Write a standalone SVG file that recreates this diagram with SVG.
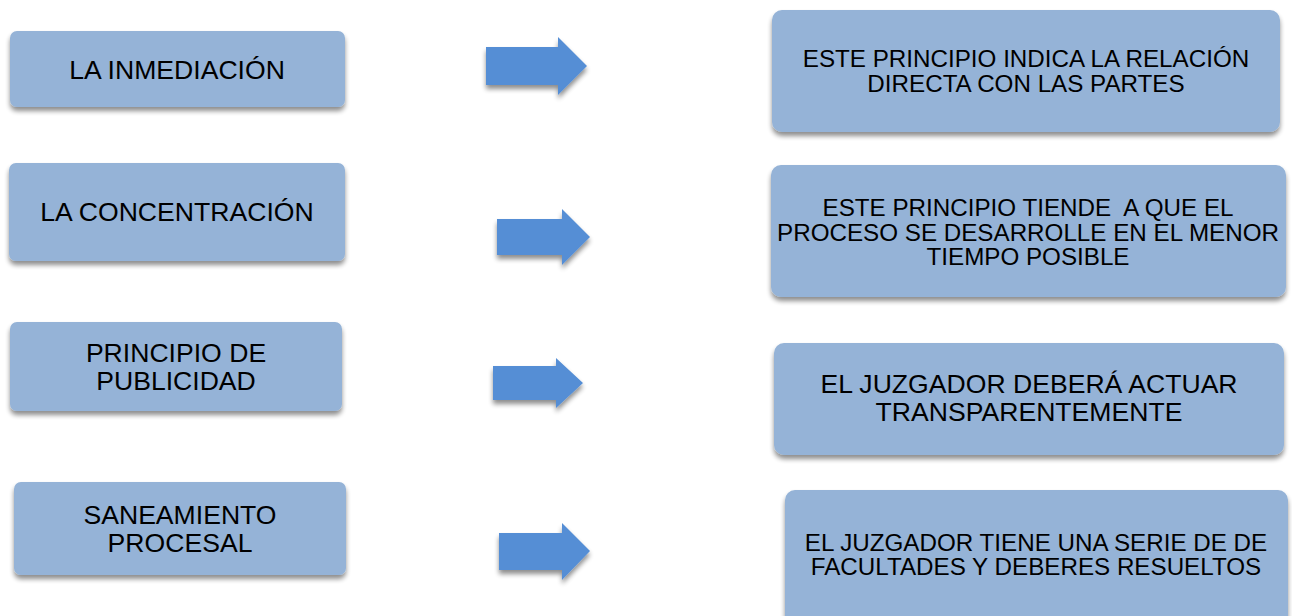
<svg xmlns="http://www.w3.org/2000/svg" width="1292" height="616" viewBox="0 0 1292 616">
<defs>
<filter id="sh" x="-10%" y="-20%" width="120%" height="150%">
<feGaussianBlur in="SourceAlpha" stdDeviation="2.5"/>
<feOffset dx="0" dy="4" result="b"/>
<feComponentTransfer><feFuncA type="linear" slope="0.45"/></feComponentTransfer>
<feMerge><feMergeNode/><feMergeNode in="SourceGraphic"/></feMerge>
</filter>
</defs>
<style>
.box{fill:#95B3D7;filter:url(#sh)}
.arr{fill:#558ED5;filter:url(#sh)}
text{font-family:"Liberation Sans",Arial,sans-serif;fill:#000;text-anchor:middle;white-space:pre}
.l{font-size:26.6px}
.m{font-size:25.5px}
.r{font-size:23.5px}
</style>
<rect width="1292" height="616" fill="#fff"/>
<g id="n1">
<rect class="box" x="10" y="31" width="335" height="76" rx="7"/>
<text class="l" x="177" y="79">LA INMEDIACIÓN</text>
</g>
<g id="n2">
<rect class="box" x="9" y="163" width="336" height="98" rx="7"/>
<text class="l" x="177" y="221">LA CONCENTRACIÓN</text>
</g>
<g id="n3">
<rect class="box" x="10" y="322" width="332" height="89" rx="7"/>
<text class="m" transform="translate(176,0) scale(1.043,1)"><tspan x="0" y="362.5">PRINCIPIO DE</tspan><tspan x="0" y="390">PUBLICIDAD</tspan></text>
</g>
<g id="n4">
<rect class="box" x="14" y="482" width="332" height="93" rx="7"/>
<text class="m" transform="translate(180,0) scale(1.043,1)"><tspan x="0" y="524">SANEAMIENTO</tspan><tspan x="0" y="552">PROCESAL</tspan></text>
</g>
<g id="r1">
<rect class="box" x="772" y="10" width="508" height="122" rx="10"/>
<text class="r" transform="translate(1026,0) scale(1.03,1)"><tspan x="0" y="67">ESTE PRINCIPIO INDICA LA RELACIÓN</tspan><tspan x="0" y="92">DIRECTA CON LAS PARTES</tspan></text>
</g>
<g id="r2">
<rect class="box" x="771" y="165" width="515" height="132" rx="10"/>
<text class="r" transform="translate(1028,0) scale(1.03,1)"><tspan x="0" y="216.5">ESTE PRINCIPIO TIENDE  A QUE EL</tspan><tspan x="0" y="241">PROCESO SE DESARROLLE EN EL MENOR</tspan><tspan x="0" y="265.5">TIEMPO POSIBLE</tspan></text>
</g>
<g id="r3">
<rect class="box" x="774" y="343" width="510" height="112" rx="10"/>
<text class="m" transform="translate(1029,0) scale(1.043,1)"><tspan x="0" y="393.5">EL JUZGADOR DEBERÁ ACTUAR</tspan><tspan x="0" y="421">TRANSPARENTEMENTE</tspan></text>
</g>
<g id="r4">
<rect class="box" x="785" y="490" width="503" height="140" rx="10"/>
<text class="r" transform="translate(1036,0) scale(1.03,1)"><tspan x="0" y="551">EL JUZGADOR TIENE UNA SERIE DE DE</tspan><tspan x="0" y="575.5">FACULTADES Y DEBERES RESUELTOS</tspan></text>
</g>
<g id="connectors">
<path class="arr" d="M486,47 H558 V37 L587,66 L558,95 V85 H486 Z"/>
<path class="arr" d="M497,219 H562 V209 L590,237 L562,265 V255 H497 Z"/>
<path class="arr" d="M493,366 H556 V358 L583,383 L556,408 V400 H493 Z"/>
<path class="arr" d="M499,533 H562 V523 L590,551 L562,580 V570 H499 Z"/>
</g>
</svg>
